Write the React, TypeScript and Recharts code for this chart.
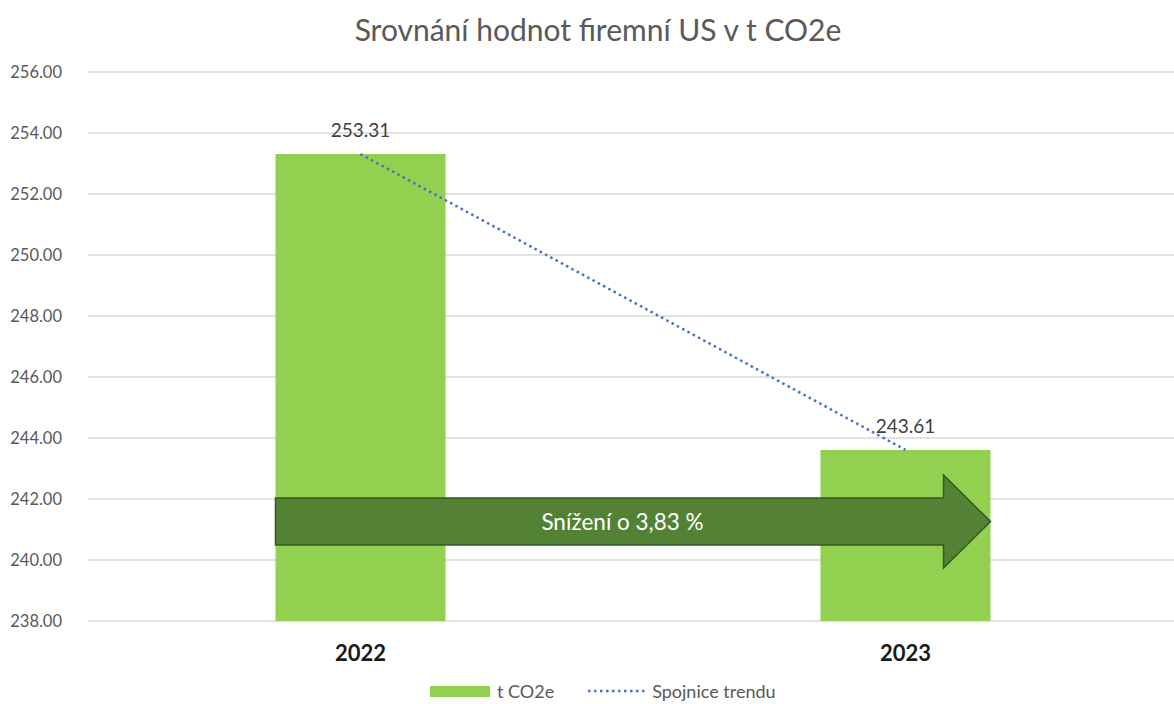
import React from 'react';
import {
  ComposedChart,
  Bar,
  Line,
  XAxis,
  YAxis,
  CartesianGrid,
  LabelList,
  ReferenceArea,
} from 'recharts';

const categories = ['2022', '2023'];
const emissions = [253.31, 243.61];
const trendValues = [253.31, 243.61];
const yTicks = [238, 240, 242, 244, 246, 248, 250, 252, 254, 256];
const arrowRange = [240.49, 242.03];
const arrowText = 'Snížení o 3,83 %';
const title = 'Srovnání hodnot firemní US v t CO2e';
const seriesNames = ['t CO2e', 'Spojnice trendu'];

const data = categories.map((c, i) => ({
  year: c,
  value: emissions[i],
  trend: trendValues[i],
}));

const GAP = 0.344;
const FONT = 'Lato, "Noto Sans", sans-serif';

const ArrowShape = (props: any) => {
  const { x, y, width, height } = props;
  if (x == null || width == null) return null;
  const band = width / categories.length;
  const inset = band * GAP;
  const left = x + inset;
  const tip = x + width - inset;
  const headLen = height * 1.0;
  const ext = height * 0.49;
  const hb = tip - headLen;
  const pts = [
    [left, y],
    [hb, y],
    [hb, y - ext],
    [tip, y + height / 2],
    [hb, y + height + ext],
    [hb, y + height],
    [left, y + height],
  ]
    .map((p) => p.join(','))
    .join(' ');
  return (
    <g>
      <polygon points={pts} fill="#548235" stroke="#375623" strokeWidth={1.5} />
      <text
        x={(left + hb) / 2 + 13}
        y={y + height / 2}
        textAnchor="middle"
        dominantBaseline="central"
        fill="#ffffff"
        fontSize={22.5}
        fontFamily={FONT}
      >
        {arrowText}
      </text>
    </g>
  );
};

export default function App() {
  return (
    <div
      style={{
        position: 'relative',
        width: 1174,
        height: 704,
        overflow: 'hidden',
        background: '#fff',
        fontFamily: FONT,
      }}
    >
      <style>{`body{margin:0;}`}</style>
      <div
        style={{
          position: 'absolute',
          top: 11,
          left: 0,
          width: 1196,
          textAlign: 'center',
          fontSize: 30,
          color: '#595959',
          fontFamily: FONT,
        }}
      >
        {title}
      </div>
      <ComposedChart
        width={1178}
        height={704}
        data={data}
        margin={{ top: 72, right: 0, left: 0, bottom: 43 }}
        barCategoryGap={`${GAP * 100}%`}
      >
        <CartesianGrid vertical={false} stroke="#d9d9d9" strokeWidth={1.5} />
        <XAxis
          dataKey="year"
          axisLine={false}
          tickLine={false}
          height={40}
          tickSize={0}
          tickMargin={24}
          tick={{ fontSize: 22, fontWeight: 700, fill: '#1a1a1a', fontFamily: FONT }}
        />
        <YAxis
          domain={[238, 256]}
          ticks={yTicks}
          width={88}
          axisLine={false}
          tickLine={false}
          tickSize={0}
          tickMargin={26}
          tickFormatter={(v: number) => v.toFixed(2)}
          tick={{ fontSize: 16.5, fill: '#595959', fontFamily: FONT }}
          allowDataOverflow
        />
        <Bar dataKey="value" name={seriesNames[0]} fill="#92D050" isAnimationActive={false}>
          <LabelList
            dataKey="value"
            position="top"
            offset={17}
            formatter={(v: any) => Number(v).toFixed(2)}
            style={{ fontSize: 19, fill: '#404040', fontFamily: FONT }}
          />
        </Bar>
        <Line
          dataKey="trend"
          name={seriesNames[1]}
          stroke="#4472C4"
          strokeWidth={2.5}
          strokeDasharray="2.5 3.5"
          dot={false}
          activeDot={false}
          isAnimationActive={false}
        />
        <ReferenceArea
          x1={categories[0]}
          x2={categories[categories.length - 1]}
          y1={arrowRange[0]}
          y2={arrowRange[1]}
          shape={ArrowShape}
          ifOverflow="visible"
          zIndex={1000}
        />
      </ComposedChart>
      <div
        style={{
          position: 'absolute',
          top: 680,
          left: 430,
          display: 'flex',
          alignItems: 'center',
          fontSize: 18,
          color: '#595959',
          fontFamily: FONT,
        }}
      >
        <span style={{ display: 'inline-block', width: 60, height: 11, background: '#92D050', marginRight: 7 }} />
        <span style={{ marginRight: 34 }}>{seriesNames[0]}</span>
        <svg width={58} height={6} style={{ marginRight: 6 }}>
          <line x1={0} y1={3} x2={58} y2={3} stroke="#4472C4" strokeWidth={2.5} strokeDasharray="2.5 3.5" />
        </svg>
        <span>{seriesNames[1]}</span>
      </div>
    </div>
  );
}
